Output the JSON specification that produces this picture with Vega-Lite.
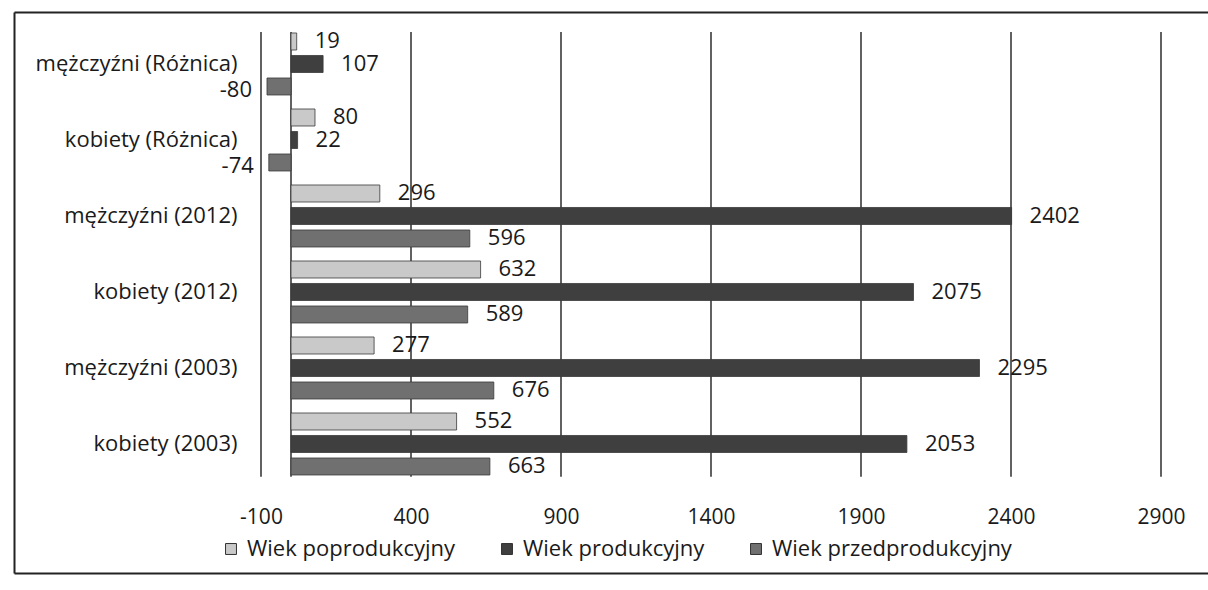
{
  "$schema": "https://vega.github.io/schema/vega-lite/v6.json",
  "width": 1194,
  "height": 561,
  "autosize": {"type": "none"},
  "padding": {"left": 14, "top": 12, "right": 0, "bottom": 17},
  "background": "white",
  "config": {"view": {"stroke": null}, "font": "Open Sans", "text": {"font": "Open Sans"}},
  "datasets": {
    "bars": [
      {"grupa": "mężczyźni (Różnica)", "seria": "Wiek poprodukcyjny", "wartosc": 19},
      {"grupa": "mężczyźni (Różnica)", "seria": "Wiek produkcyjny", "wartosc": 107},
      {"grupa": "mężczyźni (Różnica)", "seria": "Wiek przedprodukcyjny", "wartosc": -80},
      {"grupa": "kobiety (Różnica)", "seria": "Wiek poprodukcyjny", "wartosc": 80},
      {"grupa": "kobiety (Różnica)", "seria": "Wiek produkcyjny", "wartosc": 22},
      {"grupa": "kobiety (Różnica)", "seria": "Wiek przedprodukcyjny", "wartosc": -74},
      {"grupa": "mężczyźni (2012)", "seria": "Wiek poprodukcyjny", "wartosc": 296},
      {"grupa": "mężczyźni (2012)", "seria": "Wiek produkcyjny", "wartosc": 2402},
      {"grupa": "mężczyźni (2012)", "seria": "Wiek przedprodukcyjny", "wartosc": 596},
      {"grupa": "kobiety (2012)", "seria": "Wiek poprodukcyjny", "wartosc": 632},
      {"grupa": "kobiety (2012)", "seria": "Wiek produkcyjny", "wartosc": 2075},
      {"grupa": "kobiety (2012)", "seria": "Wiek przedprodukcyjny", "wartosc": 589},
      {"grupa": "mężczyźni (2003)", "seria": "Wiek poprodukcyjny", "wartosc": 277},
      {"grupa": "mężczyźni (2003)", "seria": "Wiek produkcyjny", "wartosc": 2295},
      {"grupa": "mężczyźni (2003)", "seria": "Wiek przedprodukcyjny", "wartosc": 676},
      {"grupa": "kobiety (2003)", "seria": "Wiek poprodukcyjny", "wartosc": 552},
      {"grupa": "kobiety (2003)", "seria": "Wiek produkcyjny", "wartosc": 2053},
      {"grupa": "kobiety (2003)", "seria": "Wiek przedprodukcyjny", "wartosc": 663}
    ],
    "grid": [{"v": -100}, {"v": 0}, {"v": 400}, {"v": 900}, {"v": 1400}, {"v": 1900}, {"v": 2400}, {"v": 2900}]
  },
  "layer": [
    {
      "data": {"name": "grid"},
      "mark": {"type": "rule", "color": "#1e1e1e", "strokeWidth": 1.4},
      "encoding": {
        "x": {
          "field": "v", "type": "quantitative",
          "scale": {"domain": [-923.33, 3056.67], "nice": false, "zero": false},
          "axis": {"orient": "top", "labels": false, "ticks": false, "grid": false, "domain": true, "domainColor": "#222222", "domainWidth": 2, "title": null}
        },
        "y": {
          "datum": "mężczyźni (Różnica)", "type": "nominal", "bandPosition": 0.08,
          "scale": {"domain": ["mężczyźni (Różnica)", "kobiety (Różnica)", "mężczyźni (2012)", "kobiety (2012)", "mężczyźni (2003)", "kobiety (2003)"], "paddingInner": 0, "paddingOuter": 0.6908, "align": 0.1333},
          "axis": {"orient": "left", "labels": false, "ticks": false, "grid": false, "domain": true, "domainColor": "#222222", "domainWidth": 2, "title": null}
        },
        "y2": {"datum": "kobiety (2003)", "bandPosition": 0.93}
      }
    },
    {
      "data": {"name": "bars"},
      "mark": {"type": "bar", "stroke": "#3a3a3a", "strokeWidth": 0.8},
      "encoding": {
        "x": {
          "field": "wartosc", "type": "quantitative",
          "axis": {"orient": "bottom", "values": [-100, 400, 900, 1400, 1900, 2400, 2900], "labelExpr": "'' + datum.value", "domain": false, "ticks": false, "tickSize": 0, "grid": false, "title": null, "labelFontSize": 21, "labelColor": "#1a1a1a", "labelBaseline": "middle", "labelPadding": 0, "offset": -56}
        },
        "x2": {"datum": 0},
        "y": {
          "field": "grupa", "type": "nominal",
          "axis": {"orient": "left", "offset": -223, "domain": false, "ticks": false, "grid": false, "title": null, "labelFontSize": 22, "labelColor": "#1a1a1a", "labelPadding": 0, "labelLimit": 0}
        },
        "yOffset": {
          "field": "seria", "type": "nominal",
          "sort": ["Wiek poprodukcyjny", "Wiek produkcyjny", "Wiek przedprodukcyjny"],
          "scale": {"paddingInner": 0.244, "paddingOuter": 0.311}
        },
        "color": {
          "field": "seria", "type": "nominal",
          "scale": {"domain": ["Wiek poprodukcyjny", "Wiek produkcyjny", "Wiek przedprodukcyjny"], "range": ["#c9c9c9", "#3f3f3f", "#707070"]},
          "legend": {"orient": "none", "legendX": 206, "legendY": 526, "direction": "horizontal", "title": null, "symbolType": "square", "symbolSize": 120, "symbolStrokeColor": "#333333", "symbolStrokeWidth": 1, "labelFontSize": 22, "labelColor": "#1a1a1a", "columnPadding": 40, "labelOffset": 5, "labelLimit": 0}
        }
      }
    },
    {
      "data": {"name": "bars"},
      "transform": [{"filter": "datum.wartosc >= 0"}],
      "mark": {"type": "text", "align": "left", "baseline": "middle", "dx": 18, "fontSize": 22, "color": "#1a1a1a"},
      "encoding": {
        "x": {"field": "wartosc", "type": "quantitative",
          "axis": {"orient": "bottom", "labels": false, "ticks": false, "grid": false, "domain": true, "domainColor": "#222222", "domainWidth": 2, "title": null}},
        "y": {"field": "grupa", "type": "nominal", "axis": null},
        "yOffset": {"field": "seria", "type": "nominal", "sort": ["Wiek poprodukcyjny", "Wiek produkcyjny", "Wiek przedprodukcyjny"]},
        "text": {"field": "wartosc", "type": "nominal"}
      }
    },
    {
      "data": {"name": "bars"},
      "transform": [{"filter": "datum.wartosc < 0"}],
      "mark": {"type": "text", "align": "right", "baseline": "middle", "dx": -15, "dy": 4, "fontSize": 22, "color": "#1a1a1a"},
      "encoding": {
        "x": {"field": "wartosc", "type": "quantitative", "axis": null},
        "y": {"field": "grupa", "type": "nominal", "axis": null},
        "yOffset": {"field": "seria", "type": "nominal", "sort": ["Wiek poprodukcyjny", "Wiek produkcyjny", "Wiek przedprodukcyjny"]},
        "text": {"field": "wartosc", "type": "nominal"}
      }
    }
  ],
  "resolve": {"axis": {"x": "independent", "y": "independent"}}
}
